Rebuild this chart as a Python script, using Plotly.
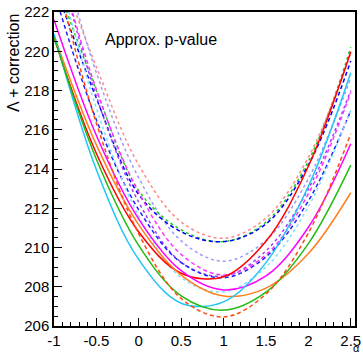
import plotly.graph_objects as go

alpha = [-1.0, -0.5, 0.0, 0.5, 1.0, 1.5, 2.0, 2.5]

salmon_dot = [225.0, 219.2, 214.2, 211.3, 210.47, 211.5, 214.6, 219.9]
green_dot = [223.8, 218.0, 212.9, 210.9, 210.3, 211.3, 214.4, 220.2]
blue_dash_top = [223.5, 217.6, 212.7, 210.8, 210.3, 211.2, 214.2, 219.5]
lavender_dot = [226.4, 218.9, 213.54, 210.34, 209.3, 210.37, 213.5, 218.65]
purple_dot = [225.5, 217.7, 212.3, 209.25, 208.54, 209.83, 212.98, 218.0]
magenta_dash = [225.4, 218.05, 212.8, 209.65, 208.6, 209.63, 212.73, 217.9]
blue_dash_b = [223.05, 216.5, 211.92, 209.23, 208.46, 209.52, 212.37, 216.97]
cyan_dot = [225.0, 217.1, 211.59, 208.47, 207.74, 209.01, 212.09, 217.0]
red_solid = [220.69, 214.79, 210.79, 208.69, 208.51, 210.32, 214.14, 219.97]
magenta_solid = [221.61, 215.71, 211.45, 208.82, 207.84, 208.55, 211.03, 215.29]
orange_solid = [220.82, 215.23, 211.15, 208.59, 207.53, 207.93, 209.69, 212.79]
cyan_solid = [220.89, 213.96, 209.38, 207.16, 207.23, 209.23, 213.12, 218.91]
green_solid = [220.72, 214.50, 210.10, 207.54, 206.81, 207.73, 210.20, 214.20]
orangered_dash = [224.32, 216.33, 210.69, 207.40, 206.46, 207.63, 210.74, 215.80]

x_ticks = [-1, -0.5, 0, 0.5, 1, 1.5, 2, 2.5]
x_tick_text = ["-1", "-0.5", "0", "0.5", "1", "1.5", "2", "2.5"]
y_ticks = [206, 208, 210, 212, 214, 216, 218, 220, 222]

series = [
    (salmon_dot, "#ff8a8a", "dot"),
    (lavender_dot, "#9a9aff", "dot"),
    (green_dot, "#22cc22", "dot"),
    (blue_dash_top, "#0000ff", "4px,3px"),
    (purple_dot, "#a040ff", "dot"),
    (magenta_dash, "#ff33ff", "4px,3px"),
    (blue_dash_b, "#2020ff", "4px,3px"),
    (cyan_dot, "#80dfff", "dot"),
    (red_solid, "#ff0000", "solid"),
    (magenta_solid, "#ff00ff", "solid"),
    (orange_solid, "#ff7f20", "solid"),
    (cyan_solid, "#22c4f4", "solid"),
    (green_solid, "#22bb11", "solid"),
    (orangered_dash, "#ff4a10", "4px,3px"),
]

fig = go.Figure()
for ys, col, dash in series:
    fig.add_trace(go.Scatter(
        x=alpha, y=ys, mode="lines",
        line=dict(color=col, width=1.5, dash=dash, shape="spline", smoothing=1.0),
        showlegend=False, hoverinfo="skip"))

font_family = "Liberation Sans, Arial, sans-serif"
fig.update_layout(
    width=363, height=356,
    margin=dict(l=54, r=8, t=12, b=30),
    paper_bgcolor="white", plot_bgcolor="white",
    font=dict(family=font_family, size=15, color="black"),
    xaxis=dict(range=[-1, 2.55], tickvals=x_ticks, ticktext=x_tick_text,
               ticks="inside", ticklen=8, tickwidth=1, tickcolor="black",
               minor=dict(dtick=0.1, ticks="inside", ticklen=4, tickcolor="black"),
               showline=True, linecolor="black", linewidth=1.5, mirror=True,
               showgrid=False, zeroline=False, tickfont=dict(size=15),
               automargin=False),
    yaxis=dict(range=[206, 222], tickvals=y_ticks,
               ticks="inside", ticklen=8, tickwidth=1, tickcolor="black",
               minor=dict(dtick=0.5, ticks="inside", ticklen=4, tickcolor="black"),
               showline=True, linecolor="black", linewidth=1.5, mirror=True,
               showgrid=False, zeroline=False, tickfont=dict(size=15),
               automargin=False),
    annotations=[
        dict(text="Approx. p-value", xref="paper", yref="paper",
             x=(103 - 54) / 301, y=(326 - 40) / 314, xanchor="left", yanchor="middle",
             showarrow=False, font=dict(size=16)),
        dict(text="Λ + correction", xref="paper", yref="paper",
             x=(13 - 54) / 301, y=1.0, xanchor="center", yanchor="top",
             textangle=-90, showarrow=False, font=dict(size=16)),
        dict(text="α", xref="paper", yref="paper",
             x=(362 - 54) / 301, y=(326 - 356) / 314, xanchor="right", yanchor="bottom",
             showarrow=False, font=dict(size=11)),
    ],
)

fig.write_html("out.html", config={"displayModeBar": False},
               post_script="document.body.style.margin='0';document.body.style.overflow='hidden';")
